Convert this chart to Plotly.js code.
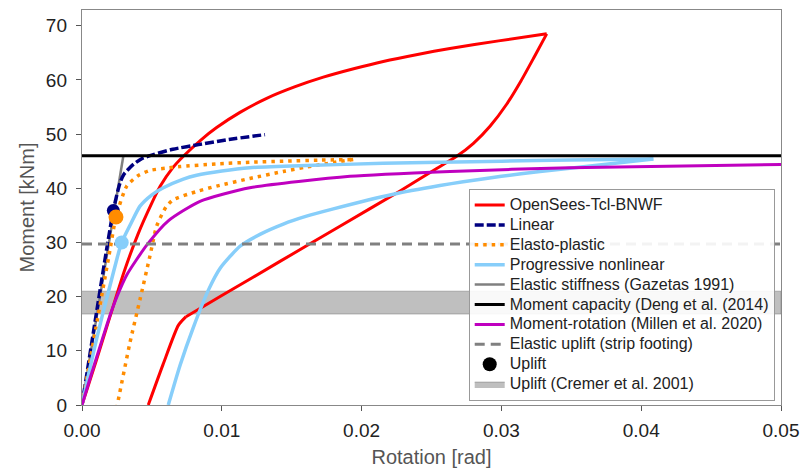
<!DOCTYPE html>
<html>
<head>
<meta charset="utf-8">
<script src="https://cdn.plot.ly/plotly-3.0.1.min.js"></script>
<style>html,body{margin:0;padding:0;background:#fff;}#chart{width:804px;height:473px;}</style>
</head>
<body>
<div id="chart"></div>
<script>
// OpenSees-Tcl-BNWF
const redRot = [0, 0.001, 0.002, 0.003, 0.004, 0.005, 0.0056, 0.0065, 0.00725, 0.0085, 0.00963, 0.0113, 0.01321, 0.0152, 0.01726, 0.0195, 0.02155, 0.024, 0.02632, 0.0298, 0.03324,
  0.0323, 0.0314, 0.0304, 0.0292, 0.0280, 0.0268, 0.0254, 0.02275, 0.01845, 0.01416, 0.0100, 0.00744, 0.00689, 0.0058, 0.00474];
const redM = [0, 8, 16.3, 24.5, 31.5, 37.3, 40.4, 43.8, 45.9, 48.9, 51.2, 54.0, 56.6, 58.7, 60.5, 62.1, 63.4, 64.7, 65.8, 67.2, 68.5,
  64.0, 59.8, 55.6, 51.5, 48.3, 45.9, 43.7, 39.5, 33.0, 26.5, 20.2, 16.3, 14.7, 7.5, 0];
// Linear
const linRot = [0, 0.00224, 0.00272, 0.003, 0.00367, 0.0043, 0.0051, 0.0065, 0.00844, 0.0105, 0.01309];
const linM = [0, 35.9, 41.0, 42.6, 44.4, 45.5, 46.2, 47.2, 48.1, 49.0, 49.9];
// Elasto-plastic
const epRot = [0, 0.001, 0.002, 0.00243, 0.0032, 0.004, 0.00486, 0.006, 0.007, 0.00963, 0.012, 0.0144, 0.017, 0.0194,
  0.01798, 0.016, 0.0144, 0.012, 0.00963, 0.0082, 0.00653, 0.006, 0.00534, 0.00486, 0.00415, 0.00343, 0.0026, 0.00252];
const epM = [0, 14.3, 28.6, 34.7, 40.4, 42.3, 43.3, 43.7, 44.0, 44.5, 44.8, 45.0, 45.2, 45.3,
  44.75, 43.9, 43.1, 41.8, 40.4, 39.4, 37.9, 36.5, 33.0, 27.5, 19.5, 11.5, 1.0, 0];
// Progressive nonlinear
const pnRot = [0, 0.0005, 0.001, 0.0015, 0.002, 0.0025, 0.00284, 0.0035, 0.00415, 0.005, 0.00582, 0.00725, 0.0082, 0.0100, 0.0120, 0.0160, 0.02155, 0.0256, 0.0300, 0.0349, 0.04087,
  0.0370, 0.03276, 0.0300, 0.02727, 0.0256, 0.02227, 0.01798, 0.0160, 0.0144, 0.01273, 0.0113, 0.00987, 0.00904, 0.00796, 0.00701, 0.00617];
const pnM = [0, 6, 11.7, 17, 22, 27, 30, 33.5, 36.7, 38.8, 40.1, 41.7, 42.4, 43.2, 43.8, 44.2, 44.6, 44.8, 45.0, 45.2, 45.4,
  44.3, 43.1, 42.2, 41.2, 40.5, 38.9, 36.2, 34.8, 33.4, 31.5, 29.3, 25.2, 21.2, 14.3, 7.3, 0];
// Elastic stiffness (Gazetas 1991)
const gazRot = [0, 0.00296];
const gazM = [0, 46];
// Moment capacity (Deng et al. 2014)
const capRot = [0, 0.05];
const capM = [46, 46];
// Moment-rotation (Millen et al. 2020)
const milRot = [0, 0.0005, 0.00129, 0.002, 0.0025, 0.0032, 0.00463, 0.00617, 0.00844, 0.012, 0.01917, 0.02632, 0.0349, 0.05];
const milM = [0, 4.3, 10.8, 16.5, 20, 24, 29.5, 34.0, 37.6, 40.1, 42.2, 43.1, 43.8, 44.4];
// Elastic uplift (strip footing)
const euRot = [0, 0.05];
const euM = [29.7, 29.7];
// Uplift points
const upRot = [0.00224, 0.00243, 0.00284];
const upM = [35.9, 34.7, 30.0];
// Uplift band (Cremer et al. 2001)
const crRot = [0, 0.05, 0.05, 0];
const crM = [16.8, 16.8, 21.0, 21.0];

// branch break indices (sharp reversal corners)
const seg = (a, i, j) => a.slice(i, j + 1);
const redBreaks = [[0, 20], [20, 32], [32, 35]];
const epBreaks = [[0, 13], [13, 27]];
const pnBreaks = [[0, 20], [20, 36]];

const FONT = 'Liberation Sans, Arial, Helvetica, sans-serif';
const L = (t) => '<span style="font-size:16px">' + t + '</span>';
const SM = 0.6;

function branches(xs, ys, breaks, base, name, rank) {
  return breaks.map((b, k) => Object.assign({
    x: seg(xs, b[0], b[1]), y: seg(ys, b[0], b[1]), mode: 'lines',
    name: name, legendrank: rank, showlegend: k === 0, legendgroup: name
  }, JSON.parse(JSON.stringify(base))));
}

const traces = [
  {x: crRot, y: crM, mode: 'lines', fill: 'toself', fillcolor: 'rgba(128,128,128,0.5)', line: {color: 'rgba(128,128,128,0.55)', width: 1}, name: L('Uplift (Cremer et al. 2001)'), legendrank: 10},
  ...branches(redRot, redM, redBreaks, {line: {color: '#ff0000', width: 3, shape: 'spline', smoothing: SM}}, L('OpenSees-Tcl-BNWF'), 1),
  {x: gazRot, y: gazM, mode: 'lines', line: {color: '#808080', width: 2.5}, name: L('Elastic stiffness (Gazetas 1991)'), legendrank: 5},
  {x: linRot, y: linM, mode: 'lines', line: {color: '#000080', width: 3.5, dash: '9px,3px', shape: 'spline', smoothing: SM}, name: L('Linear'), legendrank: 2},
  ...branches(epRot, epM, epBreaks, {line: {color: '#ff8c00', width: 3.5, dash: '3.5px,5px', shape: 'spline', smoothing: SM}}, L('Elasto-plastic'), 3),
  ...branches(pnRot, pnM, pnBreaks, {line: {color: '#87cefa', width: 3.5, shape: 'spline', smoothing: SM}}, L('Progressive nonlinear'), 4),
  {x: capRot, y: capM, mode: 'lines', line: {color: '#000000', width: 3}, name: L('Moment capacity (Deng et al. (2014)'), legendrank: 6},
  {x: milRot, y: milM, mode: 'lines', line: {color: '#bf00bf', width: 3, shape: 'spline', smoothing: SM}, name: L('Moment-rotation (Millen et al. 2020)'), legendrank: 7},
  {x: euRot, y: euM, mode: 'lines', line: {color: '#808080', width: 3, dash: '10px,6px'}, name: L('Elastic uplift (strip footing)'), legendrank: 8},
  {x: [upRot[0]], y: [upM[0]], mode: 'markers', marker: {color: '#000080', size: 13}, showlegend: false},
  {x: [upRot[1]], y: [upM[1]], mode: 'markers', marker: {color: '#ff8c00', size: 15}, showlegend: false},
  {x: [upRot[2]], y: [upM[2]], mode: 'markers', marker: {color: '#87cefa', size: 14}, showlegend: false},
  {x: [null], y: [null], mode: 'markers', marker: {color: '#000000', size: 14}, name: L('Uplift'), legendrank: 9}
];

const tickFont = {family: FONT, size: 19, color: '#222'};
const layout = {
  width: 804, height: 473,
  margin: {l: 82, r: 23, t: 10, b: 68},
  paper_bgcolor: '#fff', plot_bgcolor: '#fff',
  font: {family: FONT},
  xaxis: {
    range: [0, 0.05], tickvals: [0, 0.01, 0.02, 0.03, 0.04, 0.05], ticktext: ['0.00', '0.01', '0.02', '0.03', '0.04', '0.05'],
    showgrid: false, zeroline: false, showline: true, mirror: true, linecolor: '#888', linewidth: 1.2,
    ticks: 'outside', ticklen: 5, tickcolor: '#555', tickfont: tickFont, ticklabelstandoff: 3,
    title: {text: 'Rotation [rad]', font: {family: FONT, size: 20, color: '#555'}, standoff: 10}
  },
  yaxis: {
    range: [0, 72.9], tickvals: [0, 10, 20, 30, 40, 50, 60, 70],
    showgrid: false, zeroline: false, showline: true, mirror: true, linecolor: '#888', linewidth: 1.2,
    ticks: 'outside', ticklen: 5, tickcolor: '#555', tickfont: tickFont, ticklabelstandoff: 5,
    title: {text: 'Moment [kNm]', font: {family: FONT, size: 20, color: '#555'}, standoff: 5}
  },
  legend: {
    x: 0.991, xanchor: 'right', y: 0.01, yanchor: 'bottom',
    bgcolor: 'rgba(255,255,255,0.9)', bordercolor: '#999', borderwidth: 1,
    font: {family: FONT, size: 13, color: '#222'},
    itemwidth: 30, tracegroupgap: 0
  },
  showlegend: true
};

Plotly.newPlot('chart', traces, layout, {displayModeBar: false, staticPlot: true});
</script>
</body>
</html>
